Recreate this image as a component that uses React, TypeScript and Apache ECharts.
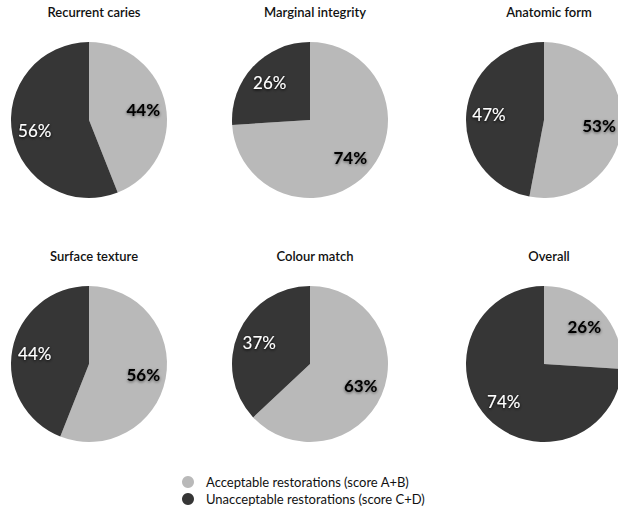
import React, { useEffect, useRef } from "react";
import * as echarts from "echarts";

// Share of restorations per evaluation criterion (%)
const criteria = [
  "Recurrent caries",
  "Marginal integrity",
  "Anatomic form",
  "Surface texture",
  "Colour match",
  "Overall",
];
const acceptable = [44, 74, 53, 56, 63, 26];
const unacceptable = [56, 26, 47, 44, 37, 74];
const legendNames = [
  "Acceptable restorations (score A+B)",
  "Unacceptable restorations (score C+D)",
];

const LIGHT = "#b9b9b9";
const DARK = "#363636";
const FONT = "Lato, 'Open Sans', sans-serif";

const colX = [89, 310, 544];
const rowY = [120, 364];
const titleTop = [0, 244];
const R = 78;

export default function App() {
  const ref = useRef<HTMLDivElement>(null);

  useEffect(() => {
    if (!ref.current) return;
    const chart = echarts.init(ref.current, undefined, { renderer: "svg" });

    const titles: any[] = [];
    const series: any[] = [];

    criteria.forEach((name, i) => {
      const cx = colX[i % 3];
      const cy = rowY[Math.floor(i / 3)];
      titles.push({
        text: name,
        left: cx,
        top: titleTop[Math.floor(i / 3)],
        textAlign: "center",
        textStyle: {
          fontFamily: FONT,
          fontSize: 13,
          fontWeight: 600,
          color: "#111",
        },
      });

      const data = [
        { name: legendNames[0], value: acceptable[i], itemStyle: { color: LIGHT } },
        { name: legendNames[1], value: unacceptable[i], itemStyle: { color: DARK } },
      ];

      // the pie itself
      series.push({
        type: "pie",
        name,
        center: [cx, cy],
        radius: [0, R],
        startAngle: 90,
        clockwise: true,
        label: { show: false },
        labelLine: { show: false },
        itemStyle: { borderWidth: 0 },
        emphasis: { disabled: true },
        silent: true,
        data,
      });

      // invisible twin, larger, so the inside labels sit at about two thirds of the radius
      series.push({
        type: "pie",
        name: name + " labels",
        center: [cx, cy],
        radius: [0, R * 1.34],
        startAngle: 90,
        clockwise: true,
        silent: true,
        emphasis: { disabled: true },
        labelLine: { show: false },
        itemStyle: { color: "rgba(0,0,0,0)", borderWidth: 0 },
        data: data.map((d) => ({ name: d.name, value: d.value })),
        label: {
          show: true,
          position: "inside",
          fontFamily: FONT,
          fontSize: 17,
          textBorderWidth: 0,
          formatter: (p: any) =>
            p.dataIndex === 0 ? `{acc|${p.value}%}` : `{unacc|${p.value}%}`,
          rich: {
            acc: {
              fontFamily: FONT,
              fontSize: 17,
              fontWeight: "bold",
              color: "#000",
              textBorderWidth: 0,
              textShadowColor: "rgba(0,0,0,0.55)",
              textShadowBlur: 3,
              textShadowOffsetY: 1,
            },
            unacc: {
              fontFamily: FONT,
              fontSize: 17,
              fontWeight: "normal",
              color: "#fff",
              textBorderWidth: 0,
              textShadowColor: "rgba(0,0,0,0.95)",
              textShadowBlur: 3,
              textShadowOffsetY: 1,
            },
          },
        },
      });
    });

    chart.setOption({
      animation: false,
      backgroundColor: "#fff",
      title: titles,
      legend: {
        orient: "vertical",
        left: 182,
        top: 475,
        padding: 0,
        icon: "circle",
        itemWidth: 12,
        itemHeight: 12,
        itemGap: 3,
        selectedMode: false,
        textStyle: {
          fontFamily: FONT,
          fontSize: 13,
          lineHeight: 14,
          color: "#111",
          padding: [0, 0, 0, 7],
        },
        data: [
          { name: legendNames[0], itemStyle: { color: LIGHT } },
          { name: legendNames[1], itemStyle: { color: DARK } },
        ],
      },
      series,
    });

    return () => chart.dispose();
  }, []);

  return (
    <div
      ref={ref}
      style={{ position: "fixed", left: 0, top: 0, width: 618, height: 514 }}
    />
  );
}
